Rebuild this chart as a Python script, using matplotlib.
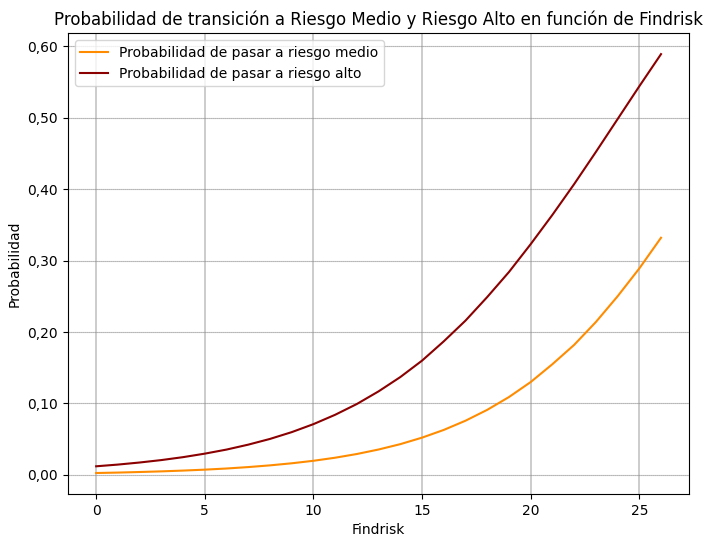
import numpy as np
import matplotlib
matplotlib.use('Agg')
import matplotlib.pyplot as plt
from matplotlib.ticker import FuncFormatter

# ===================== DATA =====================
findrisk = list(range(0, 27))

prob_medio = [0.0027, 0.0033, 0.0041, 0.0050, 0.0061, 0.0074, 0.0090, 0.0110,
              0.0134, 0.0163, 0.0198, 0.0241, 0.0293, 0.0356, 0.0431, 0.0522,
              0.0630, 0.0759, 0.0911, 0.109, 0.130, 0.155, 0.182, 0.214,
              0.250, 0.289, 0.332]

prob_alto = [0.0121, 0.0145, 0.0174, 0.0208, 0.0249, 0.0298, 0.0355, 0.0424,
             0.0504, 0.0599, 0.0711, 0.0842, 0.0993, 0.117, 0.137, 0.160,
             0.187, 0.216, 0.249, 0.284, 0.323, 0.364, 0.407, 0.452,
             0.498, 0.544, 0.589]

# -------- PLOT --------
fig, ax = plt.subplots(figsize=(7.15, 5.44), dpi=100)
fig.subplots_adjust(left=0.095, right=0.964, top=0.939, bottom=0.092)

ax.plot(findrisk, prob_medio, color='darkorange', linewidth=1.5,
        label='Probabilidad de pasar a riesgo medio')
ax.plot(findrisk, prob_alto, color='darkred', linewidth=1.5,
        label='Probabilidad de pasar a riesgo alto')

ax.set_title('Probabilidad de transición a Riesgo Medio y Riesgo Alto en función de Findrisk')
ax.set_xlabel('Findrisk')
ax.set_ylabel('Probabilidad')

ax.yaxis.set_major_formatter(FuncFormatter(lambda v, p: f'{v:.2f}'.replace('.', ',')))

ax.grid(axis='x', color='#c4c4c4', linewidth=1.2)
ax.grid(axis='y', color='#8a8a8a', linestyle=(0, (1, 0.8)), linewidth=0.8)
ax.set_axisbelow(True)

ax.legend(loc='upper left')

plt.savefig('out.png')
